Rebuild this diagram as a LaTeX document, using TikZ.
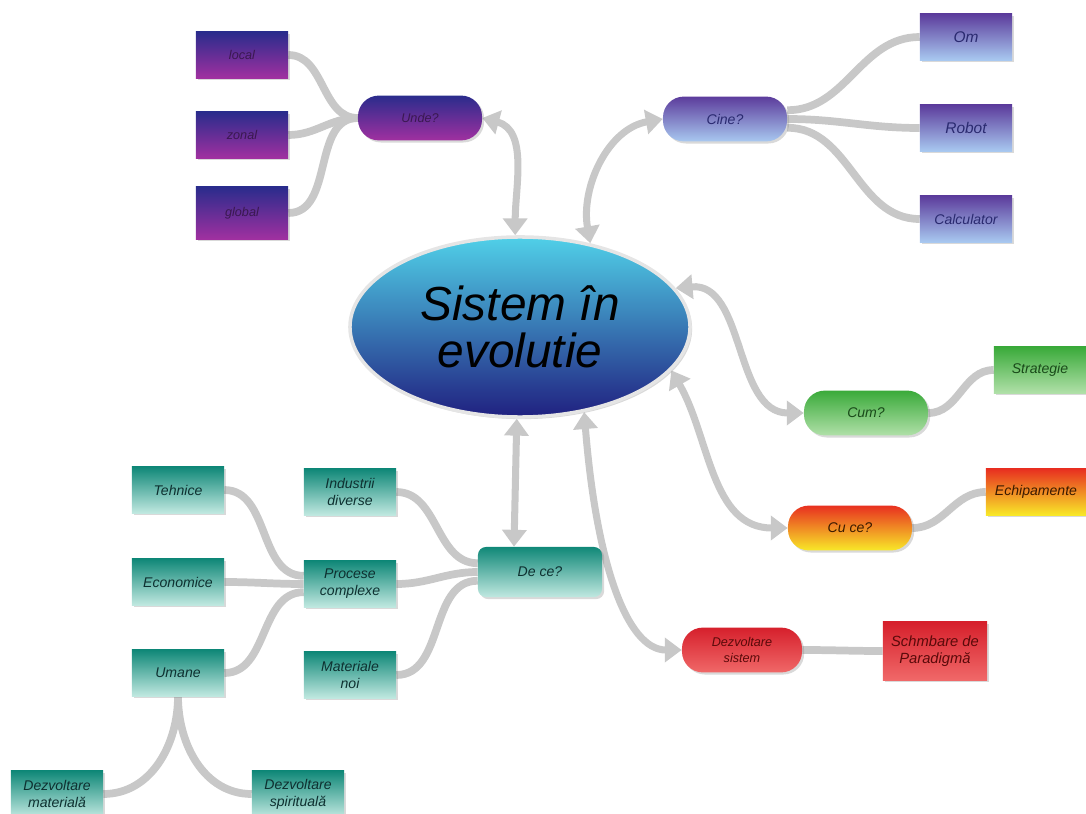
\documentclass[tikz,border=0pt]{standalone}
\usepackage{fontspec}
\setmainfont{Liberation Sans}
\usepackage{tikz}
\usepackage{xcolor}
\usetikzlibrary{arrows.meta,shadows,shapes.geometric}
\pgfdeclarelayer{background}
\pgfsetlayers{background,main}

\definecolor{linkgray}{RGB}{200,200,200}
\definecolor{undetop}{RGB}{42,44,140}
\definecolor{undebot}{RGB}{160,48,160}
\definecolor{undetext}{RGB}{58,24,80}
\definecolor{cinetop}{RGB}{92,60,156}
\definecolor{cinebot}{RGB}{168,200,240}
\definecolor{cinetext}{RGB}{42,42,112}
\definecolor{cumtop}{RGB}{58,170,58}
\definecolor{cumbot}{RGB}{176,224,168}
\definecolor{cumtext}{RGB}{26,74,26}
\definecolor{cucetop}{RGB}{232,48,32}
\definecolor{cucemid}{RGB}{245,144,32}
\definecolor{cucebot}{RGB}{248,232,40}
\definecolor{cucetext}{RGB}{58,26,0}
\definecolor{sisttop}{RGB}{214,32,44}
\definecolor{sistbot}{RGB}{240,104,104}
\definecolor{sisttext}{RGB}{90,10,10}
\definecolor{decetop}{RGB}{16,136,120}
\definecolor{decebot}{RGB}{192,232,224}
\definecolor{decetext}{RGB}{14,48,48}
\definecolor{centretop}{RGB}{80,208,232}
\definecolor{centrebot}{RGB}{32,32,128}

\begin{document}
\begin{tikzpicture}[
    x=0.025cm, y=-0.025cm,
    every node/.style={font=\itshape\fontsize{10}{12}\selectfont, align=center, inner sep=2pt},
    shade/.style={drop shadow={shadow xshift=1.5pt, shadow yshift=-1.5pt, opacity=0.3, fill=gray}},
    box/.style={rectangle, minimum width=2.3cm, minimum height=1.15cm, shade},
    pill/.style={rectangle, rounded corners=0.52cm, minimum width=3.1cm, minimum height=1.12cm, shade},
    undecol/.style={top color=undetop, bottom color=undebot, text=undetext, font=\itshape\fontsize{9}{11}\selectfont},
    cinecol/.style={top color=cinetop, bottom color=cinebot, text=cinetext},
    cumcol/.style={top color=cumtop, bottom color=cumbot, text=cumtext},
    cucecol/.style={top color=cucetop, middle color=cucemid, bottom color=cucebot, text=cucetext},
    sistcol/.style={top color=sisttop, bottom color=sistbot, text=sisttext},
    dececol/.style={top color=decetop, bottom color=decebot, text=decetext},
    link/.style={draw=linkgray, line width=5.5pt},
    mainlink/.style={draw=linkgray, line width=5pt,
        {Triangle[length=12pt,width=17pt]}-{Triangle[length=12pt,width=17pt]}}]
    \useasboundingbox (0,0) rectangle (1086,814);

    \node[ellipse, minimum width=8.5cm, minimum height=4.5cm, inner sep=0pt,
        top color=centretop, bottom color=centrebot, draw=gray!20, line width=2.5pt,
        font=\itshape\fontsize{34}{33}\selectfont, shade] (central) at (520,327) {Sistem în\\evolutie};

    \node[pill, undecol] (unde) at (420,118) {Unde?};
    \node[box, undecol] (local) at (242,55) {local};
    \node[box, undecol] (zonal) at (242,135) {zonal};
    \node[box, undecol, minimum height=1.3cm] (global) at (242,213) {global};

    \node[pill, cinecol] (cine) at (725,119) {Cine?};
    \node[box, cinecol, font=\itshape\fontsize{11}{13}\selectfont] (om) at (966,37) {Om};
    \node[box, cinecol, font=\itshape\fontsize{11}{13}\selectfont] (robot) at (966,128) {Robot};
    \node[box, cinecol] (calculator) at (966,219) {Calculator};

    \node[pill, cumcol] (cum) at (866,413) {Cum?};
    \node[box, cumcol] (strategie) at (1040,370) {Strategie};

    \node[pill, cucecol] (cuce) at (850,528) {Cu ce?};
    \node[box, cucecol, minimum width=2.5cm] (echipamente) at (1036,492) {Echipamente};

    \node[pill, sistcol, minimum width=3cm, font=\itshape\fontsize{9}{11}\selectfont] (dezvsistem) at (742,650) {Dezvoltare\\sistem};
    \node[box, sistcol, minimum width=2.6cm, minimum height=1.45cm, font=\itshape\fontsize{10.5}{12.5}\selectfont] (paradigma) at (935,651) {Schmbare de\\Paradigmă};

    \node[rectangle, rounded corners=0.2cm, minimum width=3.1cm, minimum height=1.25cm, dececol, shade] (dece) at (540,572) {De ce?};
    \node[box, dececol] (industrii) at (350,492) {Industrii\\diverse};
    \node[box, dececol] (procese) at (350,584) {Procese\\complexe};
    \node[box, dececol] (materiale) at (350,675) {Materiale\\noi};
    \node[box, dececol] (tehnice) at (178,490) {Tehnice};
    \node[box, dececol] (economice) at (178,582) {Economice};
    \node[box, dececol] (umane) at (178,673) {Umane};
    \node[box, dececol] (material) at (57,794) {Dezvoltare\\materială};
    \node[box, dececol] (spiritual) at (298,794) {Dezvoltare\\spirituală};

    \begin{pgfonlayer}{background}
        \draw[mainlink] (central.93) to[out=90, in=-15] (unde.east);
        \draw[mainlink] (central.50) to[out=100, in=190] (cine.west);
        \draw[mainlink] (central.14) to[out=5, in=180] (cum.west);
        \draw[mainlink] (central.-16) to[out=-60, in=180] (cuce.west);
        \draw[mainlink] (central.-53) .. controls +(12,150) and +(-55,0) .. (dezvsistem.west);
        \draw[mainlink] (central.-92) -- ([xshift=-0.65cm]dece.north);

        \draw[link] (local.east) to[out=0, in=180] (unde.west);
        \draw[link] (zonal.east) to[out=0, in=180] (unde.west);
        \draw[link] (global.east) to[out=0, in=180] (unde.west);
        \draw[link] (cine.8) to[out=0, in=180] (om.west);
        \draw[link] (cine.east) to[out=0, in=180] (robot.west);
        \draw[link] (cine.-8) to[out=0, in=180] (calculator.west);
        \draw[link] (cum.east) to[out=0, in=180] (strategie.west);
        \draw[link] (cuce.east) to[out=0, in=180] (echipamente.west);
        \draw[link] (dezvsistem.east) to[out=0, in=180] (paradigma.west);
        \draw[link] (industrii.east) to[out=0, in=180] (dece.172);
        \draw[link] (procese.east) to[out=0, in=180] (dece.west);
        \draw[link] (materiale.east) to[out=0, in=180] (dece.188);
        \draw[link] (tehnice.east) to[out=0, in=180] (procese.170);
        \draw[link] (economice.east) to[out=0, in=180] (procese.west);
        \draw[link] (umane.east) to[out=0, in=180] (procese.190);
        \draw[link] (umane.south) to[out=-90, in=0] (material.east);
        \draw[link] (umane.south) to[out=-90, in=180] (spiritual.west);
    \end{pgfonlayer}
\end{tikzpicture}
\end{document}
